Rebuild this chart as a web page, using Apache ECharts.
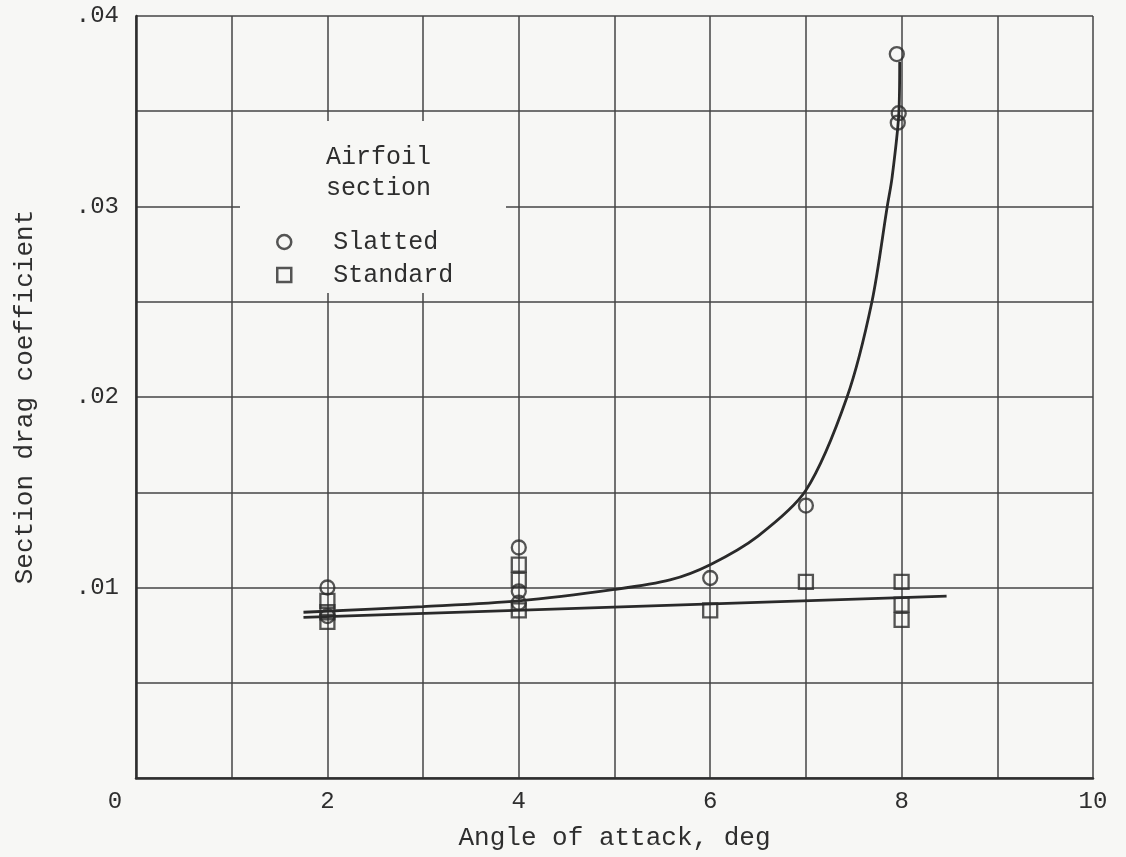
<!DOCTYPE html>
<html>
<head>
<meta charset="utf-8">
<script src="https://cdn.jsdelivr.net/npm/echarts@6/dist/echarts.min.js"></script>
<style>
html,body{margin:0;padding:0;background:#f7f7f5;}
#chart{width:1126px;height:857px;}
</style>
</head>
<body>
<div id="chart"></div>
<script>
// Data
var slattedPoints = [[2,0.0100],[2,0.0085],[4,0.0121],[4,0.0098],[4,0.0092],[6,0.0105],[7,0.0143],[7.95,0.0380],[7.97,0.0349],[7.96,0.0344]];
var standardPoints = [[2,0.0093],[2,0.0087],[2,0.0082],[4,0.0112],[4,0.0104],[4,0.0088],[6,0.0088],[7,0.0103],[8,0.0103],[8,0.0091],[8,0.0083]];
var slattedCurve = [[1.75,0.0087],[3,0.0090],[4,0.0093],[5,0.0099],[5.58,0.0104],[6,0.0112],[6.5,0.0127],[7,0.0151],[7.43,0.0200],[7.69,0.0250],[7.85,0.0300],[7.9,0.0315],[7.97,0.0348],[7.98,0.0376]];
var standardCurve = [[1.75,0.00843],[8.47,0.00955]];
var xTickLabels = {0:'0',2:'2',4:'4',6:'6',8:'8',10:'10'};
var yTickLabels = {1:'.01',2:'.02',3:'.03',4:'.04'};

var ink = '#2e2e2e';
var font = 'Liberation Mono';
var chart = echarts.init(document.getElementById('chart'));
chart.setOption({
  backgroundColor: '#f7f7f5',
  animation: false,
  textStyle: {fontFamily: font, color: ink},
  grid: {left: 136, top: 16, width: 957, height: 762, containLabel: false},
  xAxis: {
    type: 'value', min: 0, max: 10, interval: 1,
    name: 'Angle of attack, deg', nameLocation: 'middle', nameGap: 47,
    nameTextStyle: {fontFamily: font, fontSize: 26, color: ink},
    axisLine: {show: true, lineStyle: {color: ink, width: 2.5}},
    axisTick: {show: false},
    splitLine: {show: true, lineStyle: {color: '#454545', width: 1.5}},
    axisLabel: {
      fontFamily: font, fontSize: 24, color: ink, margin: 12,
      formatter: function (v) {
        var r = Math.round(v);
        if (r === 0) return '{z|0}';
        return xTickLabels[r] || '';
      },
      rich: {z: {fontFamily: font, fontSize: 24, color: ink, padding: [0, 42, 0, 0]}}
    }
  },
  yAxis: {
    type: 'value', min: 0, max: 0.04, interval: 0.005,
    name: 'Section drag coefficient', nameLocation: 'middle', nameGap: 98, nameRotate: 90,
    nameTextStyle: {fontFamily: font, fontSize: 26, color: ink},
    axisLine: {show: true, lineStyle: {color: ink, width: 2.5}},
    axisTick: {show: false},
    splitLine: {show: true, lineStyle: {color: '#454545', width: 1.5}},
    axisLabel: {
      fontFamily: font, fontSize: 24, color: ink, margin: 17,
      formatter: function (v) {
        var k = Math.round(v / 0.005);
        if (k % 2 !== 0) return '';
        return yTickLabels[k / 2] || '';
      }
    }
  },
  legend: {
    data: ['Slatted', 'Standard'],
    orient: 'vertical', left: 271, top: 224,
    itemWidth: 14, itemHeight: 14, itemGap: 7,
    itemStyle: {color: 'rgba(0,0,0,0)', borderColor: '#2a2a2a', borderWidth: 2.5},
    textStyle: {fontFamily: font, fontSize: 25, color: ink, lineHeight: 26, padding: [0, 0, 0, 37]},
    z: 6
  },
  graphic: [
    {type: 'rect', left: 240, top: 121, shape: {width: 266, height: 172}, style: {fill: '#f7f7f5'}, z: 1, silent: true},
    {type: 'text', left: 326, top: 142, z: 6,
     style: {text: 'Airfoil\nsection', font: '25px "Liberation Mono"', fill: ink, lineHeight: 31}}
  ],
  series: [
    {name: 'Slatted fairing', type: 'line', data: slattedCurve, smooth: 0.3,
     showSymbol: false, lineStyle: {color: '#2a2a2a', width: 2.8}, z: 3, silent: true},
    {name: 'Standard fairing', type: 'line', data: standardCurve, showSymbol: false,
     lineStyle: {color: '#2a2a2a', width: 2.8}, z: 3, silent: true},
    {name: 'Slatted', type: 'scatter', data: slattedPoints, symbol: 'circle', symbolSize: 14,
     itemStyle: {color: 'rgba(0,0,0,0)', borderColor: '#2a2a2a', borderWidth: 2.3}, z: 4},
    {name: 'Standard', type: 'scatter', data: standardPoints, symbol: 'rect', symbolSize: 14,
     itemStyle: {color: 'rgba(0,0,0,0)', borderColor: '#2a2a2a', borderWidth: 2.3}, z: 4}
  ]
});
</script>
</body>
</html>
